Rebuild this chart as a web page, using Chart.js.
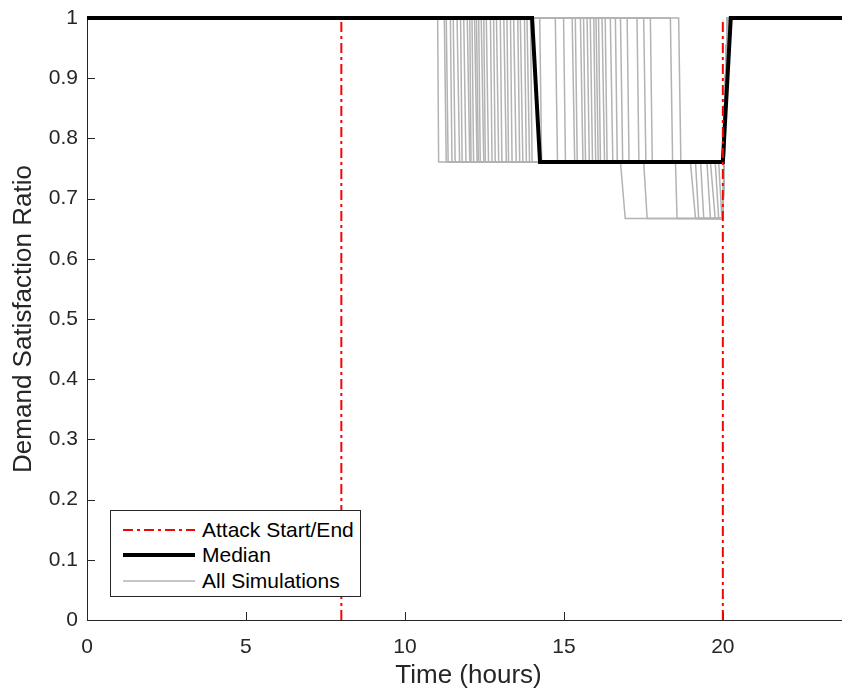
<!DOCTYPE html>
<html>
<head>
<meta charset="utf-8">
<script src="https://cdn.jsdelivr.net/npm/chart.js@4"></script>
<style>
  html, body { margin: 0; padding: 0; background: #fff; overflow: hidden; }
  #wrap { position: relative; width: 852px; height: 695px; }
  #legend {
    position: absolute; left: 110px; top: 510px; width: 251px; height: 87px;
    box-sizing: border-box; border: 1px solid #262626; background: #fff;
    font-family: "Liberation Sans", Arial, Helvetica, sans-serif; font-size: 21px; color: #000;
  }
  #legend .row { position: absolute; left: 0; height: 26px; line-height: 26px; width: 100%; }
  #legend svg { position: absolute; left: 12px; top: 0; }
  #legend span { position: absolute; left: 91px; top: 0; white-space: nowrap; }
</style>
</head>
<body>
<div id="wrap">
  <canvas id="chart" width="852" height="695"></canvas>
  <div id="legend"></div>
</div>
<script>
// axis ticks
const X_TICKS = [0, 5, 10, 15, 20];
const Y_TICKS = [0, 0.1, 0.2, 0.3, 0.4, 0.5, 0.6, 0.7, 0.8, 0.9, 1];

// attack window (hours)
const ATTACK_TIMES = [8, 20];

// satisfaction levels: normal, first degradation, second degradation
const LEVELS = [1, 0.761, 0.667];

// median curve
const MEDIAN_T = [0, 14, 14.25, 20, 20.25, 24];
const MEDIAN_Y = [1, 1, 0.761, 0.761, 1, 1];

// each simulation: time the first drop begins / ends (1 -> 0.761)
const DROP1_START = [
  11.03, 11.24, 11.30, 11.43, 11.52, 11.64, 11.75, 11.85, 11.96, 12.04,
  12.11, 12.19, 12.25, 12.32, 12.40, 12.48, 12.56, 12.69, 12.79, 12.88,
  13.00, 13.11, 13.21, 13.32, 13.42, 13.55, 13.63, 13.76, 13.84, 13.95,
  14.24, 14.73, 14.99, 15.26, 15.36, 15.52, 15.62, 15.73, 15.83, 15.94,
  16.01, 16.09, 16.20, 16.30, 16.46, 16.62, 16.78, 16.99, 17.30, 17.51,
  17.72, 18.35, 18.61
];
const DROP1_END = [
  11.06, 11.30, 11.36, 11.48, 11.58, 11.72, 11.80, 11.92, 12.04, 12.08,
  12.16, 12.27, 12.31, 12.37, 12.48, 12.53, 12.63, 12.74, 12.84, 12.95,
  13.05, 13.19, 13.26, 13.37, 13.50, 13.61, 13.71, 13.82, 13.92, 14.00,
  14.30, 14.80, 15.05, 15.34, 15.42, 15.60, 15.68, 15.80, 15.90, 16.00,
  16.08, 16.15, 16.28, 16.36, 16.54, 16.68, 16.85, 17.05, 17.36, 17.58,
  17.78, 18.42, 18.68
];

// simulations that degrade a second time (0.761 -> 0.667)
const DROP2_SIM = [3, 8, 12, 16, 20, 24, 27, 33, 38, 45];
const DROP2_START = [16.78, 17.51, 18.51, 18.98, 19.14, 19.30, 19.50, 19.61, 19.76, 19.87];
const DROP2_END = [16.93, 17.62, 18.56, 19.14, 19.24, 19.40, 19.61, 19.76, 19.87, 19.97];

// recovery after the attack ends (start, end)
const RECOVERY = [20.0, 20.15];

const TEXT = '#262626';
const FONT = '"Liberation Sans", Arial, Helvetica, sans-serif';

function simPoints(i) {
  const pts = [{ x: 0, y: LEVELS[0] }, { x: DROP1_START[i], y: LEVELS[0] }, { x: DROP1_END[i], y: LEVELS[1] }];
  let level = LEVELS[1];
  const k = DROP2_SIM.indexOf(i);
  if (k >= 0) {
    pts.push({ x: DROP2_START[k], y: LEVELS[1] }, { x: DROP2_END[k], y: LEVELS[2] });
    level = LEVELS[2];
  }
  pts.push({ x: RECOVERY[0], y: level }, { x: RECOVERY[1], y: LEVELS[0] }, { x: 24, y: LEVELS[0] });
  return pts;
}

const lineBase = { pointRadius: 0, pointHoverRadius: 0, tension: 0, clip: false, fill: false };

const datasets = [];
ATTACK_TIMES.forEach(t => {
  datasets.push({
    ...lineBase,
    data: [{ x: t, y: 0 }, { x: t, y: 1 }],
    borderColor: '#ff0000', borderWidth: 2, borderDash: [10, 4, 3, 4]
  });
});
datasets.push({
  ...lineBase,
  data: MEDIAN_T.map((t, i) => ({ x: t, y: MEDIAN_Y[i] })),
  borderColor: '#000000', borderWidth: 4
});
DROP1_START.forEach((_, i) => {
  datasets.push({ ...lineBase, data: simPoints(i), borderColor: '#b3b3b3', borderWidth: 1.5 });
});

// MATLAB-style ticks pointing into the plot
const innerTicks = {
  id: 'innerTicks',
  beforeDatasetsDraw(chart) {
    const { ctx, chartArea, scales: { x, y } } = chart;
    ctx.save();
    ctx.strokeStyle = TEXT;
    ctx.lineWidth = 1;
    ctx.beginPath();
    X_TICKS.forEach(v => {
      const px = Math.round(x.getPixelForValue(v)) + 0.5;
      ctx.moveTo(px, chartArea.bottom);
      ctx.lineTo(px, chartArea.bottom - 8);
    });
    Y_TICKS.forEach(v => {
      const py = Math.round(y.getPixelForValue(v)) + 0.5;
      ctx.moveTo(chartArea.left, py);
      ctx.lineTo(chartArea.left + 8, py);
    });
    ctx.stroke();
    ctx.restore();
  }
};

new Chart(document.getElementById('chart'), {
  type: 'line',
  data: { datasets },
  options: {
    responsive: false,
    animation: false,
    devicePixelRatio: 1,
    layout: { padding: { top: 18, right: 2, left: 0, bottom: 0 } },
    plugins: { legend: { display: false }, tooltip: { enabled: false } },
    scales: {
      x: {
        type: 'linear', min: 0, max: 24,
        afterBuildTicks: s => { s.ticks = X_TICKS.map(v => ({ value: v })); },
        afterFit: s => { s.height = 75; s.paddingLeft = 0; s.paddingRight = 0; },
        grid: { display: false, drawTicks: false },
        border: { display: true, color: TEXT, width: 1 },
        ticks: { color: TEXT, padding: 15, maxRotation: 0, font: { family: FONT, size: 21 } },
        title: { display: true, text: 'Time (hours)', color: TEXT, padding: { top: 0, bottom: 4 }, font: { family: FONT, size: 26 } }
      },
      y: {
        type: 'linear', min: 0, max: 1,
        afterBuildTicks: s => { s.ticks = Y_TICKS.map(v => ({ value: v })); },
        afterFit: s => { s.width = 87; s.paddingTop = 0; s.paddingBottom = 0; },
        grid: { display: false, drawTicks: false },
        border: { display: true, color: TEXT, width: 1 },
        ticks: { color: TEXT, padding: 9, font: { family: FONT, size: 21 }, callback: v => String(Math.round(v * 10) / 10) },
        title: { display: true, text: 'Demand Satisfaction Ratio', color: TEXT, padding: { top: 8, bottom: 0 }, font: { family: FONT, size: 26 } }
      }
    }
  },
  plugins: [innerTicks]
});

// legend box
const LEGEND_LABELS = ['Attack Start/End', 'Median', 'All Simulations'];
const legendEl = document.getElementById('legend');
const samples = [
  '<line x1="0" y1="13" x2="72" y2="13" stroke="#ff0000" stroke-width="2" stroke-dasharray="10 4 3 4"/>',
  '<line x1="0" y1="13" x2="72" y2="13" stroke="#000000" stroke-width="4"/>',
  '<line x1="0" y1="13" x2="72" y2="13" stroke="#b3b3b3" stroke-width="1.3"/>'
];
LEGEND_LABELS.forEach((label, i) => {
  const row = document.createElement('div');
  row.className = 'row';
  row.style.top = (6 + i * 25.4) + 'px';
  row.innerHTML = '<svg width="72" height="26">' + samples[i] + '</svg><span>' + label + '</span>';
  legendEl.appendChild(row);
});
</script>
</body>
</html>
